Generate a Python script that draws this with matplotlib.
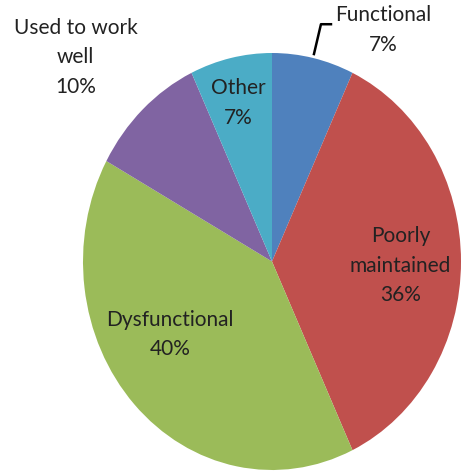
import matplotlib.pyplot as plt

# Condition of the facilities (share of total)
categories = ['Functional', 'Poorly\nmaintained', 'Dysfunctional', 'Used to work\nwell', 'Other']
shares = [7, 36, 40, 10, 7]
colors = ['#4F81BD', '#C0504D', '#9BBB59', '#8064A2', '#4BACC6']

# label anchor points (data coords of the unit pie)
label_pos = [(0.59, 1.11), (0.68, -0.02), (-0.54, -0.35), (-1.04, 0.98), (-0.18, 0.76)]

plt.rcParams['font.family'] = ['Lato', 'DejaVu Sans']

fig = plt.figure(figsize=(4.61, 4.71), dpi=100)
# pie is slightly taller than wide in the reference, so no equal aspect
ax = fig.add_axes([83 / 461, 1 / 471, 378 / 461, 417 / 471])
ax.pie(shares, colors=colors, startangle=90, counterclock=False, radius=1,
       wedgeprops=dict(linewidth=0))
ax.set_aspect('auto')
ax.set_xlim(-1, 1)
ax.set_ylim(-1, 1)
ax.axis('off')

for cat, val, (x, y) in zip(categories, shares, label_pos):
    ax.text(x, y, f'{cat}\n{val}%', ha='center', va='center', fontsize=15,
            color='#222222', linespacing=1.6, clip_on=False)

# leader line for the small "Functional" slice
ax.plot([0.222, 0.259, 0.312], [0.995, 1.138, 1.138], color='black', lw=1.8, clip_on=False)

fig.savefig('out.png', dpi=100)
